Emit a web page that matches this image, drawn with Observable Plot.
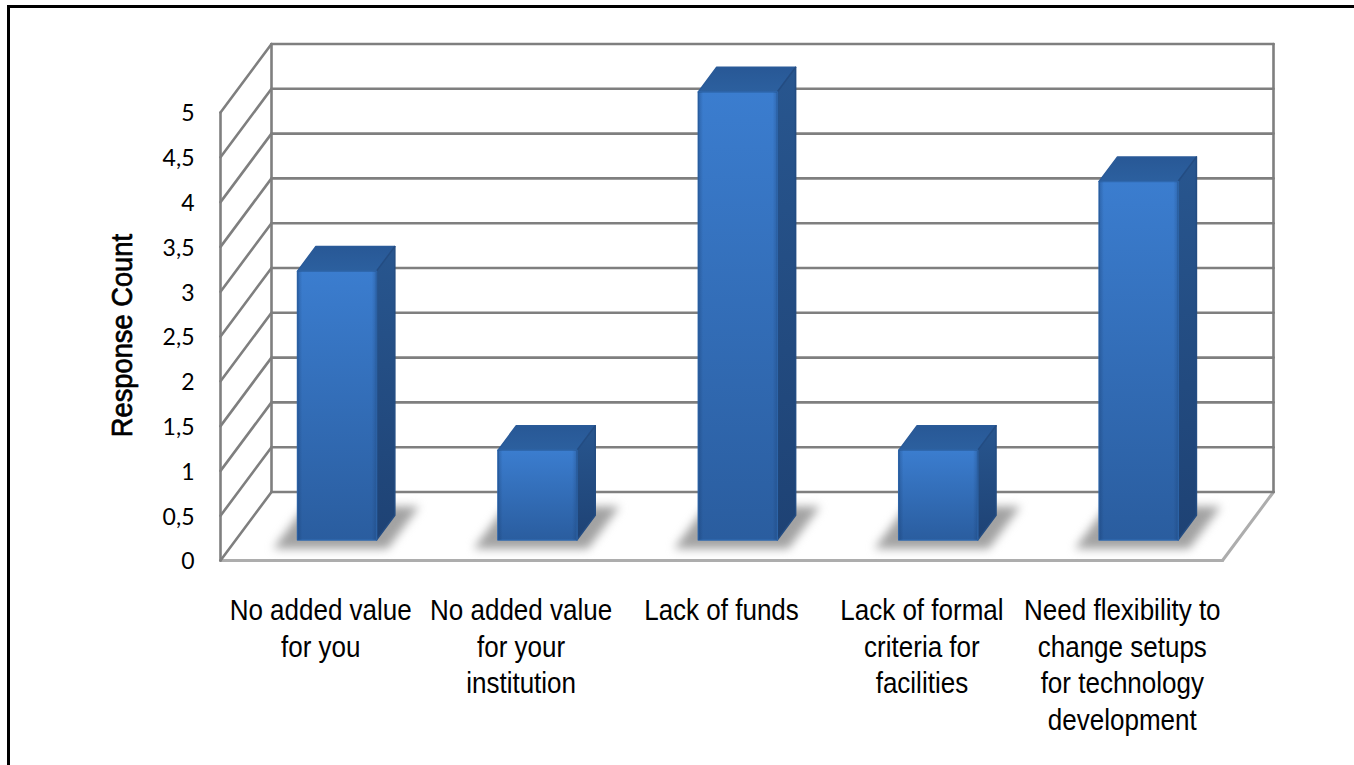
<!DOCTYPE html>
<html>
<head>
<meta charset="utf-8">
<script src="https://cdn.jsdelivr.net/npm/d3@7"></script>
<script src="https://cdn.jsdelivr.net/npm/@observablehq/plot@0.6"></script>
<style>
html,body{margin:0;padding:0;background:#fff;overflow:hidden}
#chart{position:relative;width:1354px;height:765px}
#border{position:absolute;left:6.5px;top:4.5px;right:0;bottom:0;border-left:3px solid #000;border-top:3px solid #000;pointer-events:none}
svg{display:block}
</style>
</head>
<body>
<div id="chart"><div id="border"></div></div>
<script>
const categories = [
  "No added value\nfor you",
  "No added value\nfor your\ninstitution",
  "Lack of funds",
  "Lack of formal\ncriteria for\nfacilities",
  "Need flexibility to\nchange setups\nfor technology\ndevelopment"
];
const values = [3, 1, 5, 1, 4];
const yTicks = [0, 0.5, 1, 1.5, 2, 2.5, 3, 3.5, 4, 4.5, 5];
const yLabel = "Response Count";

// oblique depth axis, in units of the x and y scales per full wall depth
const depthX = 0.2545, depthY = 0.7645;
const barOffset = 0.005, barHalf = 0.197, barDepth = [0.30, 0.66];
const shadowHalf = 0.285, shadowDepth = [0.17, 0.79];
const P = (u, v, d) => ({x: u + d * depthX, y: v + d * depthY});
const poly = (id, pts) => [...pts, pts[0]].map(([u, v, d]) => ({id, ...P(u, v, d)}));
const seg = (id, a, b) => [{id, ...P(...a)}, {id, ...P(...b)}];

const n = categories.length;
const centers = categories.map((_, i) => i + 0.5);
const wall = [
  ...yTicks.flatMap(t => [...seg(`s${t}`, [0, t, 0], [0, t, 1]), ...seg(`b${t}`, [0, t, 1], [n, t, 1])]),
  ...seg("v0", [0, 0, 0], [0, 5, 0]),
  ...seg("v1", [0, 0, 1], [0, 5, 1]),
  ...seg("v2", [n, 0, 1], [n, 5, 1])
];
const floor = [...seg("f0", [0, 0, 0], [n, 0, 0]), ...seg("f1", [n, 0, 0], [n, 0, 1])];

const shadows = [], fronts = [], tops = [], sides = [];
values.forEach((v, i) => {
  const c = centers[i] + barOffset, l = c - barHalf, r = c + barHalf;
  const [a, b] = barDepth;
  shadows.push(...poly(`sh${i}`, [
    [c - shadowHalf, 0, shadowDepth[0]], [c + shadowHalf, 0, shadowDepth[0]],
    [c + shadowHalf, 0, shadowDepth[1]], [c - shadowHalf, 0, shadowDepth[1]]
  ]));
  fronts.push(...poly(`fr${i}`, [[l, 0, a], [r, 0, a], [r, v, a], [l, v, a]]));
  tops.push(...poly(`to${i}`, [[l, v, a], [r, v, a], [r, v, b], [l, v, b]]));
  sides.push(...poly(`si${i}`, [[r, 0, a], [r, 0, b], [r, v, b], [r, v, a]]));
});

function defs() {
  const d = d3.create("svg:defs");
  const grad = (id, stops, horiz) => {
    const g = d.append("linearGradient").attr("id", id)
      .attr("x1", 0).attr("y1", 0).attr("x2", horiz ? 1 : 0).attr("y2", horiz ? 0 : 1);
    stops.forEach(([o, c, a]) => g.append("stop").attr("offset", o).attr("stop-color", c).attr("stop-opacity", a ?? 1));
  };
  grad("gFront", [[0, "#3b7dcf"], [1, "#2a5d9f"]]);
  grad("gTop", [[0, "#285896"], [1, "#2c609f"]]);
  grad("gSide", [[0, "#28568f"], [1, "#1e4274"]]);
  grad("gSheen", [[0, "#12305c", 0.3], [0.06, "#12305c", 0], [0.94, "#12305c", 0], [1, "#12305c", 0.25]], true);
  return d.node();
}

// narrows the text horizontally, as in the reference's condensed lettering
const squeeze = k => (index, scales, channels, dims, ctx, next) => {
  const g = next(index, scales, channels, dims, ctx);
  d3.select(g).selectAll("text").attr("transform", function() {
    return `${this.getAttribute("transform") || ""} scale(${k},1)`;
  });
  return g;
};

const barStyle = {x: "x", y: "y", z: "id", strokeWidth: 1.5, strokeLinejoin: "round"};
const plot = Plot.plot({
  width: 1354,
  height: 765,
  marginLeft: 220,
  marginRight: 132,
  marginTop: 112,
  marginBottom: 205,
  style: {background: "#fff"},
  x: {domain: [0, n], axis: null},
  y: {domain: [0, 5], axis: null},
  marks: [
    defs,
    Plot.line(floor, {x: "x", y: "y", z: "id", stroke: "#adadad", strokeWidth: 3, imageFilter: "blur(0.4px)"}),
    Plot.line(wall, {x: "x", y: "y", z: "id", stroke: "#7f7f7f", strokeWidth: 2.6, imageFilter: "blur(0.4px)"}),
    Plot.line(shadows, {x: "x", y: "y", z: "id", fill: "#a2a2a2", stroke: "none", imageFilter: "blur(5px)"}),
    Plot.line(tops, {...barStyle, fill: "url(#gTop)", stroke: "#2a5a98"}),
    Plot.line(sides, {...barStyle, fill: "url(#gSide)", stroke: "#234c82"}),
    Plot.line(fronts, {...barStyle, fill: "url(#gFront)", stroke: "#2f68ae"}),
    Plot.line(fronts, {x: "x", y: "y", z: "id", fill: "url(#gSheen)", stroke: "none"}),
    Plot.axisY({
      ticks: yTicks,
      tickSize: 0,
      tickPadding: 26,
      dy: 1.5,
      tickFormat: t => String(t).replace(".", ","),
      fontSize: 23,
      fontFamily: "Lato",
      fill: "#000",
      label: null
    }),
    Plot.text([yLabel], {
      frameAnchor: "left",
      y: [2.51],
      dx: -98,
      rotate: -90,
      text: d => d,
      textAnchor: "middle",
      fontSize: 30,
      fontFamily: "'Liberation Sans'",
      fill: "#000",
      stroke: "#000",
      strokeWidth: 0.7,
      render: squeeze(0.91)
    }),
    Plot.text(categories, {
      x: centers,
      y: values.map(() => 0),
      dy: 34,
      text: d => d,
      lineAnchor: "top",
      lineHeight: 1.217,
      textAnchor: "middle",
      fontSize: 30,
      fontFamily: "'Liberation Sans'",
      fill: "#000",
      render: squeeze(0.867)
    })
  ]
});
document.getElementById("chart").prepend(plot);
</script>
</body>
</html>
